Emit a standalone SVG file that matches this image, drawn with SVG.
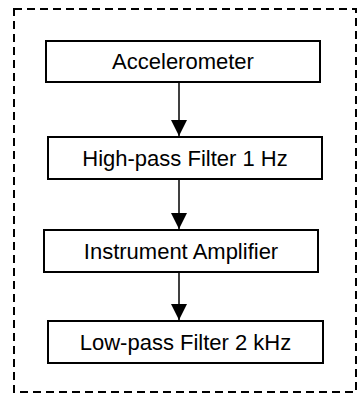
<svg xmlns="http://www.w3.org/2000/svg" width="358" height="394" viewBox="0 0 358 394">
<style>
.box{fill:#fff;stroke:#000;stroke-width:2}
.lbl{font-family:"Liberation Sans",Arial,sans-serif;font-size:22px;fill:#000;text-anchor:middle}
.frame{fill:none;stroke:#000;stroke-width:2;stroke-dasharray:8 5}
.conn{stroke:#000;stroke-width:1.5;fill:none}
</style>
<defs>
<marker id="ah" markerUnits="userSpaceOnUse" markerWidth="16" markerHeight="16" refX="16" refY="8" orient="auto" viewBox="0 0 16 16">
<path d="M0,0 L16,8 L0,16 Z" fill="#000"/>
</marker>
</defs>
<rect class="frame" x="14" y="9" width="342" height="383"/>
<g id="connectors">
<line class="conn" x1="179" y1="82" x2="179" y2="136" marker-end="url(#ah)"/>
<line class="conn" x1="179" y1="179" x2="179" y2="229" marker-end="url(#ah)"/>
<line class="conn" x1="179" y1="272" x2="179" y2="320" marker-end="url(#ah)"/>
</g>
<g id="accelerometer">
<rect class="box" x="46" y="41" width="274" height="41"/>
<text class="lbl" x="183" y="69">Accelerometer</text>
</g>
<g id="highpass">
<rect class="box" x="48" y="137" width="274" height="42"/>
<text class="lbl" x="185" y="166">High-pass Filter 1 Hz</text>
</g>
<g id="amplifier">
<rect class="box" x="44" y="230" width="274" height="42"/>
<text class="lbl" x="181" y="259">Instrument Amplifier</text>
</g>
<g id="lowpass">
<rect class="box" x="48" y="321" width="275" height="42"/>
<text class="lbl" x="185.5" y="350">Low-pass Filter 2 kHz</text>
</g>
</svg>
